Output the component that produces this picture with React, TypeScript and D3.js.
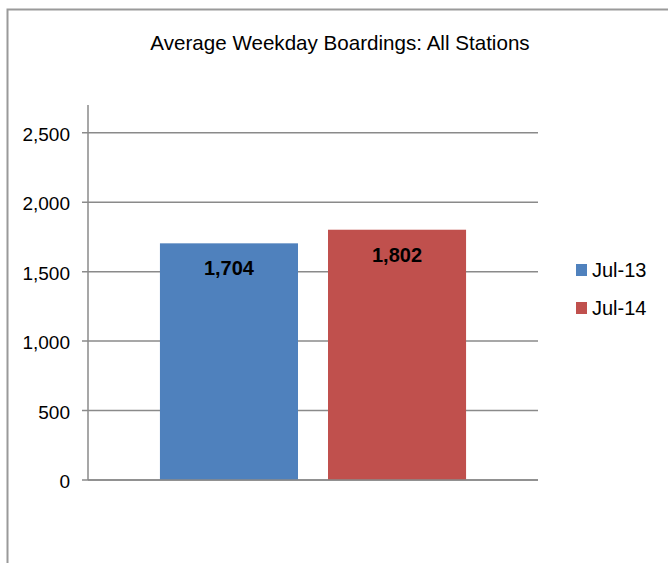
import React from "react";
import * as d3 from "d3";

const categories: string[] = ["All Stations"];
const seriesNames: string[] = ["Jul-13", "Jul-14"];
const seriesValues: number[] = [1704, 1802];
const seriesColors: string[] = ["#4F81BD", "#C0504D"];
const yTicks: number[] = [0, 500, 1000, 1500, 2000, 2500];
const title = "Average Weekday Boardings: All Stations";

const W = 668;
const H = 563;
const plotLeft = 88;
const plotRight = 538;
const plotBottom = 480;
const plotTop = 105;
const font = "'Liberation Sans', Arial, sans-serif";

export default function App() {
  const y = d3.scaleLinear().domain([0, 2700]).range([plotBottom, plotTop]);
  const x0 = d3
    .scaleBand<string>()
    .domain(categories)
    .range([plotLeft, plotRight])
    .paddingInner(0)
    .paddingOuter(0.235);
  const x1 = d3
    .scaleBand<string>()
    .domain(seriesNames)
    .range([0, x0.bandwidth()])
    .paddingInner(0.1786)
    .paddingOuter(0);
  const fmt = d3.format(",");
  const gridColor = "#8a8a8a";

  return (
    <svg
      width={W}
      height={H}
      style={{ position: "absolute", left: 0, top: 0, display: "block", background: "#fff" }}
      fontFamily={font}
    >
      <rect x={0} y={0} width={W} height={H} fill="#fff" />
      {/* chart frame */}
      <path d={`M7.5,${H} V9.5 H${W}`} fill="none" stroke="#9a9a9a" strokeWidth={2} />

      <text x={340} y={50} textAnchor="middle" fontSize={20.6} fill="#000">
        {title}
      </text>

      {/* gridlines and ticks */}
      {yTicks.map((t) => (
        <g key={t}>
          <line x1={82} x2={plotRight} y1={y(t)} y2={y(t)} stroke={gridColor} strokeWidth={1.5} />
          <text x={70} y={y(t) + 8} textAnchor="end" fontSize={19} fill="#000">
            {fmt(t)}
          </text>
        </g>
      ))}
      <line x1={plotLeft} x2={plotLeft} y1={plotTop} y2={plotBottom} stroke={gridColor} strokeWidth={1.5} />

      {/* bars */}
      {categories.map((c) => (
        <g key={c} transform={`translate(${x0(c)},0)`}>
          {seriesNames.map((s, i) => (
            <g key={s}>
              <rect
                x={x1(s)}
                y={y(seriesValues[i])}
                width={x1.bandwidth()}
                height={plotBottom - y(seriesValues[i])}
                fill={seriesColors[i]}
              />
              <text
                x={(x1(s) as number) + x1.bandwidth() / 2}
                y={y(seriesValues[i]) + 32}
                textAnchor="middle"
                fontSize={20}
                fontWeight="bold"
                fill="#000"
              >
                {fmt(seriesValues[i])}
              </text>
            </g>
          ))}
        </g>
      ))}
      <line x1={plotLeft} x2={plotRight} y1={plotBottom} y2={plotBottom} stroke={gridColor} strokeWidth={1.5} />

      {/* legend */}
      {seriesNames.map((s, i) => (
        <g key={s} transform={`translate(576,${264 + i * 38})`}>
          <rect x={0} y={0} width={11} height={12} fill={seriesColors[i]} />
          <text x={16} y={12.5} fontSize={20} fill="#000">
            {s}
          </text>
        </g>
      ))}
    </svg>
  );
}
